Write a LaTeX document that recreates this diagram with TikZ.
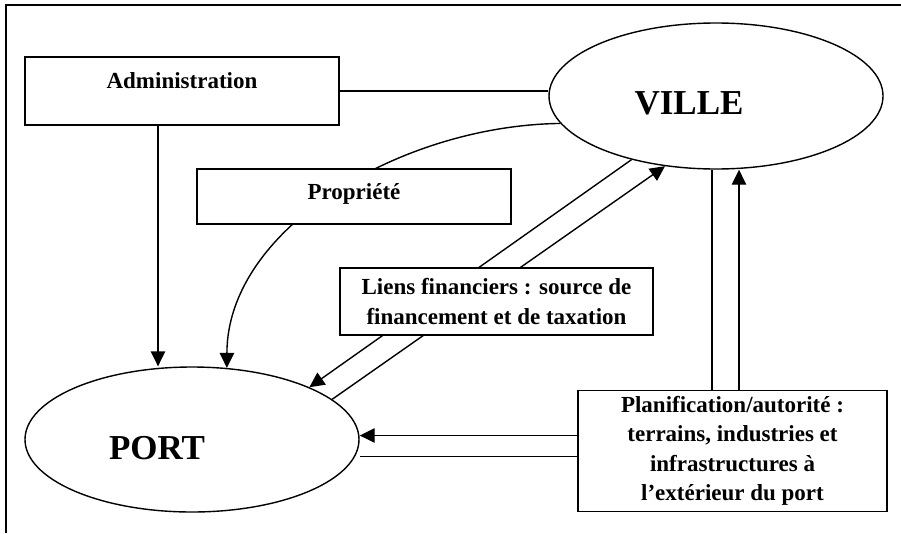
\documentclass[tikz,border=0pt]{standalone}
\usepackage{fontspec}
\setmainfont{Liberation Serif}
\usetikzlibrary{arrows.meta,shapes.geometric,backgrounds}
\begin{document}
\begin{tikzpicture}[x=1pt,y=-1pt,
  box/.style={draw,line width=1.5pt,fill=white,rectangle,inner sep=0pt},
  oval/.style={draw,line width=1.4pt,ellipse,inner sep=0pt,fill=white},
  txt/.style={font=\fontsize{23}{29.5}\selectfont\bfseries},
  bigtxt/.style={font=\fontsize{35}{40}\selectfont\bfseries},
  link/.style={line width=1.4pt},
  arr/.style={link,-{Triangle[length=15pt,width=14.5pt]}},
  framestyle/.style={line width=2.6pt}]
\useasboundingbox (0,0) rectangle (901,533);
\node[oval,minimum width=334pt,minimum height=146pt,
  label={[bigtxt,xshift=-27pt,yshift=-7pt]center:VILLE}] (ville) at (716,96) {};
\node[oval,minimum width=334pt,minimum height=145pt,
  label={[bigtxt,xshift=-35pt,yshift=-8.5pt]center:PORT}] (port) at (192,439.5) {};
\node[box,minimum width=314pt,minimum height=68pt,
  label={[txt,yshift=10.8pt]center:Administration}] (admin) at (182,91) {};
\node[box,minimum width=314pt,minimum height=55pt,
  label={[txt,yshift=3pt]center:Propriété}] (prop) at (354,196.5) {};
\node[box,txt,align=center,minimum width=313pt,minimum height=67pt] (liens) at (496.5,301.5)
  {Liens financiers : source de\\financement et de taxation};
\node[box,txt,align=center,minimum width=309pt,minimum height=121pt] (planif) at (732.5,451)
  {Planification/autorité :\\terrains, industries et\\infrastructures à\\l’extérieur du port};
\begin{scope}[on background layer]
\draw[framestyle] (6,533) -- (6,5) -- (901,5);
\draw[link] (admin.east) -- (admin.east -| ville.west);
\draw[arr] ([xshift=-24pt]admin.south) -- ([xshift=-24pt]admin.south |- port.north);
\draw[arr] (ville.190) .. controls +(-160,2) and +(0,-139) .. (port.64);
\draw[arr] (ville.217) -- (port.24);
\draw[arr] (port.16) -- (ville.234);
\draw[link] ([xshift=-20.5pt]planif.north) -- ([xshift=-20.5pt]planif.north |- ville.south);
\draw[arr] ([xshift=6.5pt]planif.north) -- ([xshift=6.5pt]planif.north |- ville.south);
\draw[arr] ([yshift=15.5pt]planif.west) -- ([yshift=15.5pt]planif.west -| port.east);
\draw[link] ([yshift=-5.5pt]planif.west) -- ([yshift=-5.5pt]planif.west -| port.east);
\end{scope}
\end{tikzpicture}
\end{document}
